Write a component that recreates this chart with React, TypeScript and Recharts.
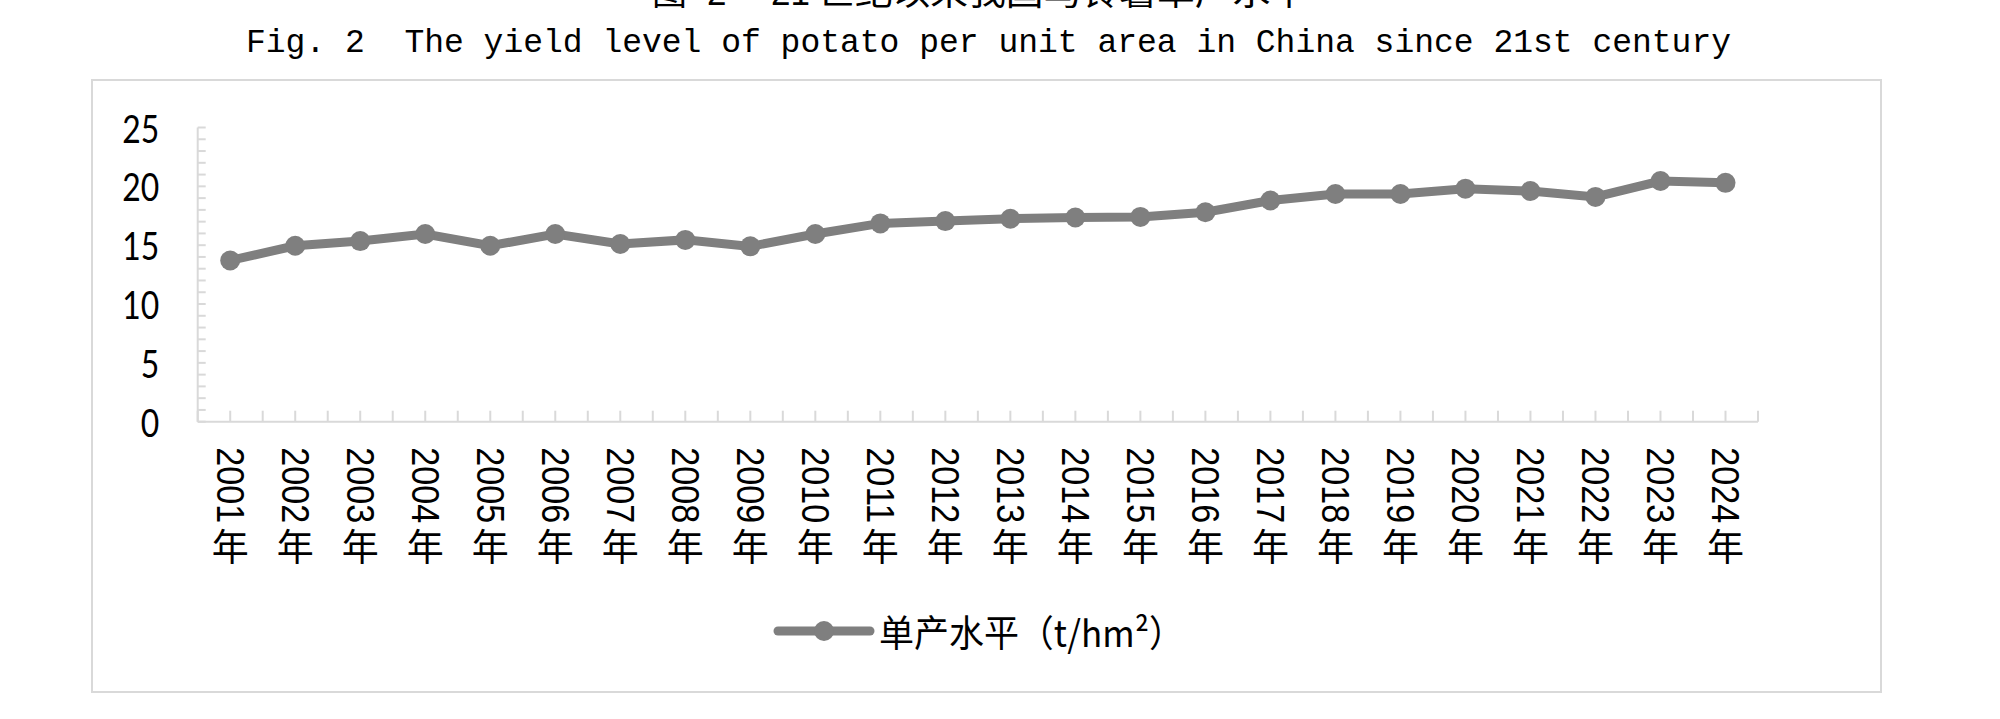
import React from 'react';
import { LineChart, Line, XAxis, YAxis, Legend } from 'recharts';

// ---- data ----
const years = [
  '2001年', '2002年', '2003年', '2004年', '2005年', '2006年', '2007年', '2008年',
  '2009年', '2010年', '2011年', '2012年', '2013年', '2014年', '2015年', '2016年',
  '2017年', '2018年', '2019年', '2020年', '2021年', '2022年', '2023年', '2024年',
];
const yieldValues = [
  13.7, 14.95, 15.35, 15.95, 14.95, 15.95, 15.1, 15.45,
  14.9, 15.95, 16.85, 17.05, 17.25, 17.35, 17.4, 17.8,
  18.8, 19.35, 19.35, 19.8, 19.6, 19.1, 20.45, 20.3,
];
const yLabelTicks = [0, 5, 10, 15, 20, 25];
const yMinorTicks = [0, 1, 2, 3, 4, 5, 6, 7, 8, 9, 10, 11, 12, 13, 14, 15, 16, 17, 18, 19, 20, 21, 22, 23, 24, 25];
const seriesName = '单产水平（t/hm²）';
const titleEn = 'Fig. 2  The yield level of potato per unit area in China since 21st century';
const titleZhParts = ['图', '2', '21', '世纪以来我国马铃薯单产水平'];

const data = years.map((year, i) => ({ idx: i + 1, year, value: yieldValues[i] }));
// category centres and category boundaries (Excel-style tick marks)
const xTicks = [0.5, ...years.flatMap((_, i) => [i + 1, i + 1.5])];

const AXIS = '#d9d9d9';
const LINE = '#7f7f7f';

const XTick = (props: any) => {
  const { x, y, payload } = props;
  const v = payload.value as number;
  const isCat = Number.isInteger(v);
  const label = isCat ? years[v - 1] : '';
  const digits = label.replace('年', '');
  return (
    <g>
      <line x1={x} x2={x} y1={y} y2={y - 11} stroke={AXIS} strokeWidth={2} />
      {isCat && (
        <g>
          <text
            transform={`translate(${x},${y + 25.5}) rotate(90)`}
            textAnchor="start"
            dominantBaseline="central"
            fontFamily="'Liberation Sans', Arial, sans-serif"
            fontSize={38}
            textLength={76}
            lengthAdjust="spacingAndGlyphs"
            fill="#000"
          >
            {digits}
          </text>
          <text
            x={x}
            y={y + 123}
            textAnchor="middle"
            dominantBaseline="central"
            fontFamily="'Noto Sans CJK SC', sans-serif"
            fontSize={37}
            fill="#000"
          >
            年
          </text>
        </g>
      )}
    </g>
  );
};

const YTick = (props: any) => {
  const { x, y, payload } = props;
  const v = payload.value as number;
  const show = yLabelTicks.includes(v);
  const s = String(v);
  return (
    <g>
      <line x1={x} x2={x + 8} y1={y} y2={y} stroke={AXIS} strokeWidth={2} />
      {show && (
        <text
          x={x - 38.5}
          y={y}
          textAnchor="end"
          dominantBaseline="central"
          fontFamily="Lato, 'Open Sans', sans-serif"
          fontSize={38}
          textLength={s.length * 18.5}
          lengthAdjust="spacingAndGlyphs"
          fill="#000"
        >
          {s}
        </text>
      )}
    </g>
  );
};

const LegendContent = (props: any) => {
  const name = props?.payload?.[0]?.value ?? seriesName;
  return (
    <svg width={440} height={60} style={{ display: 'block' }}>
      <line x1={8} x2={100} y1={30} y2={30} stroke={LINE} strokeWidth={9} strokeLinecap="round" />
      <circle cx={54} cy={30} r={10} fill={LINE} />
      <text
        x={109}
        y={30}
        dominantBaseline="central"
        fontFamily="'Noto Sans CJK SC', sans-serif"
        fontSize={37}
        textLength={305}
        lengthAdjust="spacingAndGlyphs"
        fill="#000"
      >
        {name}
      </text>
    </svg>
  );
};

export default function App() {
  return (
    <div style={{ position: 'relative', width: 2000, height: 719, background: '#fff', overflow: 'hidden' }}>
      <style>{`body{margin:0;background:#fff;}`}</style>
      {/* frame */}
      <div
        style={{
          position: 'absolute',
          left: 91,
          top: 79,
          width: 1791,
          height: 614,
          border: `2px solid ${AXIS}`,
          boxSizing: 'border-box',
        }}
      />
      {/* titles */}
      <svg width={2000} height={75} style={{ position: 'absolute', left: 0, top: 0 }}>
        <text x={652} y={5} fontFamily="'Noto Sans CJK SC', sans-serif" fontSize={35} fill="#000">{titleZhParts[0]}</text>
        <text x={707} y={5} fontFamily="'Liberation Sans', sans-serif" fontSize={35} fill="#000">{titleZhParts[1]}</text>
        <text x={771} y={5} fontFamily="'Liberation Sans', sans-serif" fontSize={35} fill="#000">{titleZhParts[2]}</text>
        <text x={817} y={5} fontFamily="'Noto Sans CJK SC', sans-serif" fontSize={35} textLength={491} lengthAdjust="spacingAndGlyphs" fill="#000">{titleZhParts[3]}</text>
        <text
          x={246}
          y={51.5}
          fontFamily="'Liberation Mono', 'Courier New', monospace"
          fontSize={34}
          textLength={1485}
          lengthAdjust="spacingAndGlyphs"
          fill="#000"
          style={{ whiteSpace: 'pre' }}
        >
          {titleEn}
        </text>
      </svg>
      <div style={{ position: 'absolute', left: 0, top: 0 }}>
        <LineChart
          width={2000}
          height={719}
          data={data}
          margin={{ top: 127.5, right: 242, left: 117.7, bottom: 97.3 }}
        >
          <XAxis
            type="number"
            dataKey="idx"
            domain={[0.5, 24.5]}
            ticks={xTicks}
            interval={0}
            tickSize={0}
            tickMargin={0}
            tickLine={false}
            axisLine={{ stroke: AXIS, strokeWidth: 2 }}
            tick={<XTick />}
            height={200}
            allowDataOverflow
          />
          <YAxis
            type="number"
            domain={[0, 25]}
            ticks={yMinorTicks}
            interval={0}
            tickSize={0}
            tickMargin={0}
            tickLine={false}
            axisLine={{ stroke: AXIS, strokeWidth: 2 }}
            tick={<YTick />}
            width={80}
            allowDataOverflow
          />
          <Legend
            verticalAlign="middle"
            align="center"
            layout="horizontal"
            content={<LegendContent />}
            wrapperStyle={{ left: 770, top: 600.7, width: 440, height: 60 }}
          />
          <Line
            type="linear"
            dataKey="value"
            name={seriesName}
            stroke={LINE}
            strokeWidth={9}
            dot={{ r: 10, fill: LINE, stroke: 'none', strokeWidth: 0 }}
            activeDot={false}
            isAnimationActive={false}
          />
        </LineChart>
      </div>
    </div>
  );
}
